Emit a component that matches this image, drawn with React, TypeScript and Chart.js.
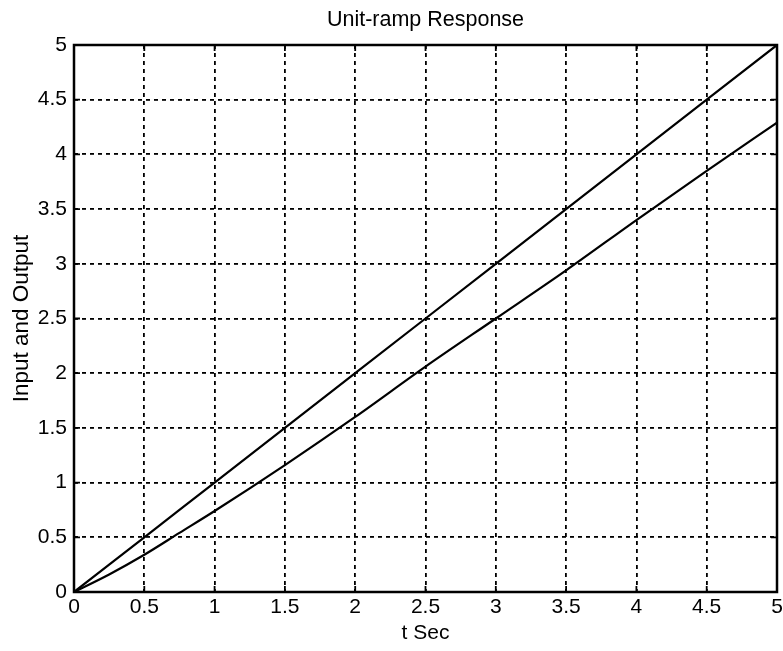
import React, { useEffect, useRef } from "react";
import { Chart, registerables } from "chart.js";

Chart.register(...registerables);

const timeSec = [0, 0.25, 0.5, 0.75, 1, 1.5, 2, 2.5, 3, 3.5, 4, 4.5, 5];
const inputRamp = [0, 0.25, 0.5, 0.75, 1, 1.5, 2, 2.5, 3, 3.5, 4, 4.5, 5];
const outputResp = [0, 0.16, 0.34, 0.54, 0.74, 1.16, 1.6, 2.06, 2.5, 2.94, 3.4, 3.85, 4.29];
const titleText = "Unit-ramp Response";
const xLabel = "t Sec";
const yLabel = "Input and Output";

const FONT = "'Liberation Sans', Arial, Helvetica, sans-serif";

const fmt = (v: any) => `${+Number(v).toFixed(2)}`;

const framePlugin = {
  id: "frame",
  beforeDatasetsDraw(chart: any) {
    const { ctx, chartArea } = chart;
    const { left, right, top, bottom } = chartArea;
    ctx.save();
    ctx.strokeStyle = "#000";
    ctx.lineWidth = 1.8;
    const tl = 6;
    const xs = chart.scales.x;
    const ys = chart.scales.y;
    ctx.beginPath();
    xs.ticks.forEach((t: any) => {
      const px = xs.getPixelForValue(t.value);
      ctx.moveTo(px, bottom);
      ctx.lineTo(px, bottom - tl);
      ctx.moveTo(px, top);
      ctx.lineTo(px, top + tl);
    });
    ys.ticks.forEach((t: any) => {
      const py = ys.getPixelForValue(t.value);
      ctx.moveTo(left, py);
      ctx.lineTo(left + tl, py);
      ctx.moveTo(right, py);
      ctx.lineTo(right - tl, py);
    });
    ctx.stroke();
    ctx.lineWidth = 2.5;
    ctx.strokeRect(left, top, right - left, bottom - top);
    ctx.fillStyle = "#000";
    ctx.font = `21.5px ${FONT}`;
    ctx.textAlign = "center";
    ctx.textBaseline = "middle";
    ctx.fillText(titleText, (left + right) / 2, 20);
    ctx.restore();
  },
};

export default function App() {
  const ref = useRef<HTMLCanvasElement | null>(null);
  useEffect(() => {
    document.body.style.margin = "0";
    const canvas = ref.current;
    if (!canvas) return;
    const chart = new Chart(canvas, {
      type: "line",
      data: {
        datasets: [
          {
            label: "Input",
            data: timeSec.map((t, i) => ({ x: t, y: inputRamp[i] })),
            borderColor: "#000",
            borderWidth: 2.2,
            pointRadius: 0,
            fill: false,
            tension: 0,
          },
          {
            label: "Output",
            data: timeSec.map((t, i) => ({ x: t, y: outputResp[i] })),
            borderColor: "#000",
            borderWidth: 2.2,
            pointRadius: 0,
            fill: false,
            cubicInterpolationMode: "monotone",
          },
        ],
      },
      options: {
        responsive: false,
        animation: false,
        layout: { padding: { top: 45, right: 6, left: 0, bottom: 0 } },
        plugins: {
          legend: { display: false },
          title: { display: false },
          tooltip: { enabled: false },
        },
        scales: {
          x: {
            type: "linear",
            min: 0,
            max: 5,
            ticks: {
              stepSize: 0.5,
              color: "#000",
              font: { family: FONT, size: 21 },
              padding: 3,
              maxRotation: 0,
              callback: fmt,
            },
            grid: { color: "#000", lineWidth: 1.8, drawTicks: false },
            border: { display: false, dash: [4, 4] },
            title: {
              display: true,
              text: xLabel,
              color: "#000",
              font: { family: FONT, size: 21 },
              padding: { top: 0, bottom: 5 },
            },
            afterFit: (s: any) => {
              s.height = 59;
              s.paddingLeft = 0;
              s.paddingRight = 0;
            },
          },
          y: {
            type: "linear",
            min: 0,
            max: 5,
            ticks: {
              stepSize: 0.5,
              color: "#000",
              font: { family: FONT, size: 21 },
              padding: 7,
              callback: fmt,
            },
            grid: { color: "#000", lineWidth: 1.8, drawTicks: false },
            border: { display: false, dash: [4, 4] },
            title: {
              display: true,
              text: yLabel,
              color: "#000",
              font: { family: FONT, size: 22.5 },
              padding: { top: 8, bottom: 0 },
            },
            afterFit: (s: any) => {
              s.width = 74;
              s.paddingTop = 0;
              s.paddingBottom = 0;
            },
          },
        },
      },
      plugins: [framePlugin],
    });
    return () => chart.destroy();
  }, []);
  return (
    <div style={{ position: "absolute", left: 0, top: 0, width: 783, height: 651, background: "#fff" }}>
      <canvas ref={ref} width={783} height={651} style={{ display: "block" }} />
    </div>
  );
}
